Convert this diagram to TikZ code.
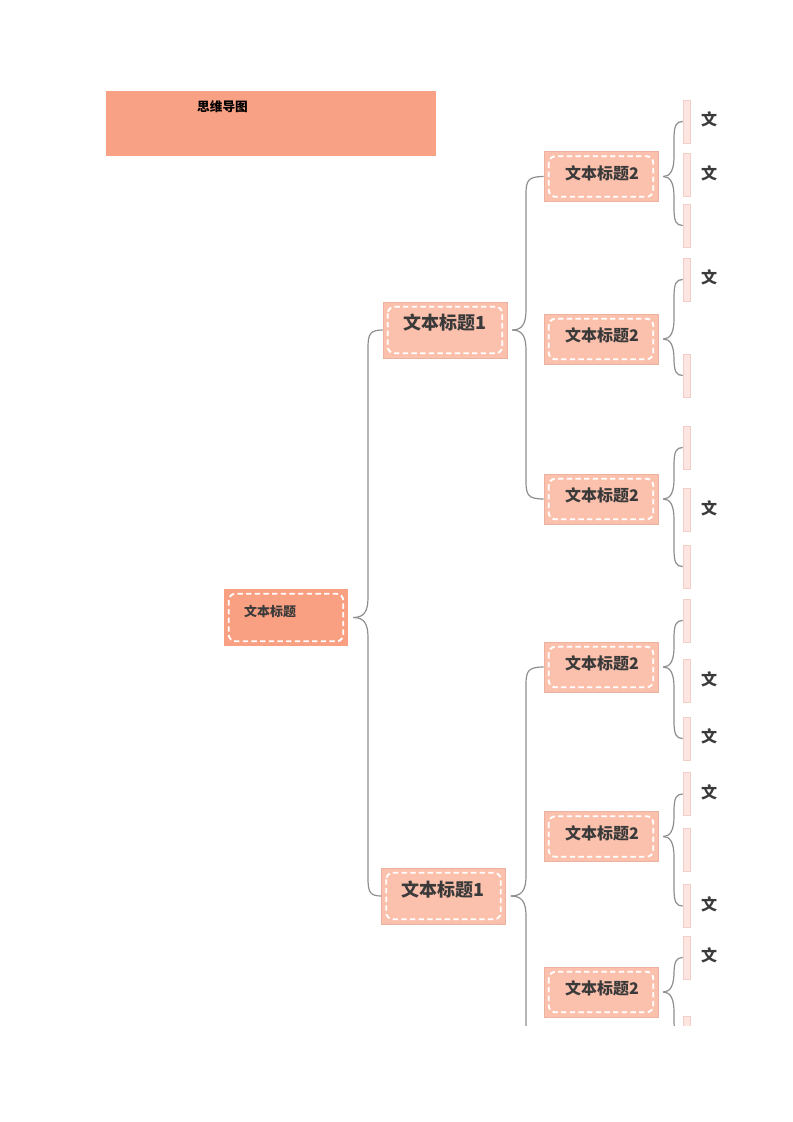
\documentclass[tikz,border=0pt]{standalone}
\usepackage{fontspec}
\setmainfont{Noto Sans CJK SC}
\usetikzlibrary{calc,positioning}
\definecolor{titlefill}{HTML}{F9A185}
\definecolor{rootfill}{HTML}{F9A082}
\definecolor{boxfill}{HTML}{FCC1AD}
\definecolor{boxline}{HTML}{EDB29F}
\definecolor{leaffill}{HTML}{FDE5E1}
\definecolor{leafline}{HTML}{F3CEC7}
\definecolor{linkgray}{HTML}{8E8E8E}
\definecolor{textgray}{HTML}{3A3A3A}
\tikzstyle{titlebox}=[rectangle,fill=titlefill,minimum width=247.5pt,minimum height=48.75pt,inner sep=0pt]
\tikzstyle{rootbox}=[rectangle,fill=rootfill,minimum width=93pt,minimum height=42.75pt,inner sep=0pt]
\tikzstyle{levelone}=[rectangle,fill=boxfill,draw=boxline,line width=0.4pt,minimum width=93pt,minimum height=42pt,inner sep=0pt]
\tikzstyle{leveltwo}=[rectangle,fill=boxfill,draw=boxline,line width=0.4pt,minimum width=85.5pt,minimum height=37.5pt,inner sep=0pt]
\tikzstyle{leaf}=[rectangle,fill=leaffill,draw=leafline,line width=0.4pt,minimum width=5.25pt,minimum height=32.25pt,inner sep=0pt]
\tikzstyle{innerdash}=[draw=white,line width=1.4pt,dash pattern=on 4pt off 2.5pt,rounded corners=5pt]
\tikzstyle{link}=[draw=linkgray,line width=0.9pt]
\tikzstyle{titletext}=[font=\fontsize{9.5pt}{11pt}\selectfont\bfseries,text=black,inner sep=0pt]
\tikzstyle{roottext}=[font=\fontsize{9.75pt}{11pt}\selectfont\bfseries,text=textgray,inner sep=0pt]
\tikzstyle{onetext}=[font=\fontsize{13.5pt}{15pt}\selectfont\bfseries,text=textgray,inner sep=0pt]
\tikzstyle{twotext}=[font=\fontsize{12pt}{14pt}\selectfont\bfseries,text=textgray,inner sep=0pt]
\tikzstyle{leaftext}=[font=\fontsize{12pt}{14pt}\selectfont\bfseries,text=textgray,inner sep=0pt]
\begin{document}
\begin{tikzpicture}[x=0.75pt,y=-0.75pt]
    \useasboundingbox (0,0) rectangle (793,1122);
    % title bar
    \node[titlebox] (title) at (271,123.5) {};
    \node[titletext] (titlelabel) at (222.5,107) {思维导图};

    \begin{scope}
    \clip (0,0) rectangle (793,1025);
    % boxes of the first levels
    \node[rootbox] (r) at (286,617.5) {};
    \node[levelone] (a1) at (445,330) {};
    \node[levelone] (a2) at (443.5,896) {};
    \foreach \pos/\name in {{(601,176.5)/b1}, {(601,339)/b2}, {(601,499)/b3},
    {(601,667)/b4}, {(601,836.5)/b5}, {(601,992)/b6}}
        \node[leveltwo] (\name) at \pos {};
    \coordinate (b7) at (544,1115);

    % dashed frames inside the boxes
    \foreach \name in {r,a1,a2,b1,b2,b3,b4,b5,b6}
        \draw[innerdash] ($(\name.north west)+(5,5)$) rectangle ($(\name.south east)+(-5,-5)$);

    % box texts
    \node[roottext] (rlabel) at (270,611) {文本标题};
    \foreach \pos/\name in {{(445,323)/a1}, {(443,890)/a2}}
        \node[onetext] (\name label) at \pos {文本标题1};
    \foreach \name in {b1,b2,b3,b4,b5,b6}
        \node[twotext] (\name label) at ($(\name)+(1,-3.5)$) {文本标题2};

    % thin leaf bars
    \foreach \y/\name in {121.5/l11, 175/l12, 225.5/l13, 279.5/l21, 375.5/l22,
    447.5/l31, 510/l32, 566.5/l33, 620.5/l41, 681/l42, 738.5/l43,
    794/l51, 850/l52, 906/l53, 957.5/l61, 1037.5/l62}
        \node[leaf] (\name) at (686.5,\y) {};
    \foreach \name in {l11,l12,l21,l32,l42,l43,l51,l53,l61}
        \node[leaftext,right=8pt of \name,yshift=1.5pt] (\name text) {文};

    % braces: source / target / spine x / up(-1) or down(1)
    \foreach \src/\dst/\sx/\s in {r/a1.west/368/-1, r/a2.west/368/1,
    a1/b1.west/526/-1, a1/b3.west/526/1, a2/b4.west/526/-1, a2/b7/526/1,
    b1/l11.west/674/-1, b1/l13.west/674/1, b2/l21.west/674/-1, b2/l22.west/674/1,
    b3/l31.west/674/-1, b3/l33.west/674/1, b4/l41.west/674/-1, b4/l43.west/674/1,
    b5/l51.west/674/-1, b5/l53.west/674/1, b6/l61.west/674/-1, b6/l62.west/674/1}
        \path[link] ($(\src.east)+(5,0)$) coordinate (tip)
            .. controls ($(\sx,0 |- tip)+(-4,0)$) and ($(\sx,0 |- tip)+(0,\s*6)$) .. ($(\sx,0 |- tip)+(0,\s*20)$)
            -- ($(\sx,0 |- \dst)-(0,\s*18)$)
            .. controls ($(\sx,0 |- \dst)-(0,\s*4)$) and ($(\sx,0 |- \dst)+(2,0)$) .. (\dst);
    \end{scope}
\end{tikzpicture}
\end{document}
